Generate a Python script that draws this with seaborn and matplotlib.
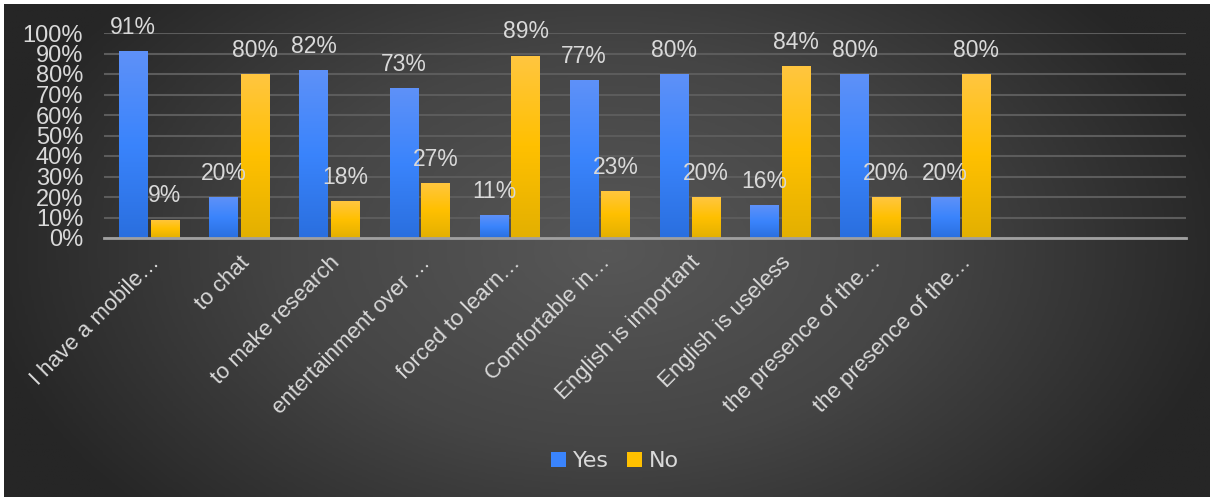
import numpy as np
import pandas as pd
import seaborn as sns
import matplotlib.pyplot as plt
from matplotlib.colors import LinearSegmentedColormap
from matplotlib.patches import Patch

sns.set_style("dark")
plt.rcParams['font.family'] = ['Liberation Sans', 'DejaVu Sans']

# Survey answers (share of respondents)
categories = ["I have a mobile…", "to chat", "to make research", "entertainment over …",
              "forced to learn…", "Comfortable in…", "English is important",
              "English is useless", "the presence of the…", "the presence of the…"]
yes_vals = [0.91, 0.20, 0.82, 0.73, 0.11, 0.77, 0.80, 0.16, 0.80, 0.20]
no_vals = [0.09, 0.80, 0.18, 0.27, 0.89, 0.23, 0.20, 0.84, 0.20, 0.80]
series = ["Yes", "No"]
yticks = [0, 0.1, 0.2, 0.3, 0.4, 0.5, 0.6, 0.7, 0.8, 0.9, 1.0]

BLUE = "#3a84fc"
GOLD = "#ffc000"
TEXT = "#d9d9d9"

df = pd.DataFrame({
    "pos": list(range(len(categories))) * 2,
    "answer": ["Yes"] * len(categories) + ["No"] * len(categories),
    "share": yes_vals + no_vals,
})

fig = plt.figure(figsize=(12.1, 4.97), dpi=100, facecolor="white")

# chart background: radial-ish gradient, lighter in the middle
bg = fig.add_axes([4 / 1210, 0, 1 - 4 / 1210, 1 - 4 / 497], zorder=-5)
gx, gy = np.meshgrid(np.linspace(-1, 1, 400), np.linspace(-1, 1, 200))
r = np.sqrt((gx / 1.05) ** 2 + (gy / 1.6) ** 2)
bg_cmap = LinearSegmentedColormap.from_list("bg", ["#575757", "#454545", "#262626"])
bg.imshow(np.clip(r, 0, 1), cmap=bg_cmap, aspect="auto", extent=(0, 1, 0, 1))
bg.set_axis_off()

ax = fig.add_axes([104 / 1210, 1 - 238 / 497, (1186 - 104) / 1210, (238 - 33) / 497])
ax.set_facecolor("none")

sns.barplot(data=df, x="pos", y="share", hue="answer", hue_order=series,
            palette=[BLUE, GOLD], width=0.7, gap=0.1, ax=ax, legend=False,
            saturation=1, linewidth=0, zorder=3)

# vertical gradients on bars
grad_maps = {
    BLUE: LinearSegmentedColormap.from_list("b", ["#2a6fdf", "#3a84fc", "#5e91f8"]),
    GOLD: LinearSegmentedColormap.from_list("g", ["#e3b000", "#ffc000", "#ffc640"]),
}
grad = np.linspace(0, 1, 100).reshape(-1, 1)
for i, bar in enumerate(ax.patches):
    cmap = grad_maps[BLUE] if i < len(categories) else grad_maps[GOLD]
    x0, w, h = bar.get_x(), bar.get_width(), bar.get_height()
    im = ax.imshow(grad, cmap=cmap, aspect="auto", origin="lower",
                   extent=(x0, x0 + w, 0, h), zorder=4)
    im.set_clip_path(bar)
    ax.annotate(f"{h * 100:.0f}%", (x0 + w / 2, h), xytext=(0, 17),
                textcoords="offset points", ha="center", va="center",
                fontsize=16.5, color=TEXT, annotation_clip=False, zorder=6)

ax.set_xlim(-0.5, 11.5)
ax.set_ylim(0, 1)
ax.set_yticks(yticks)
ax.set_yticklabels([f"{t * 100:.0f}%" for t in yticks], fontsize=17, color=TEXT)
ax.set_xticks(range(len(categories)))
ax.set_xticklabels(categories, rotation=45, ha="right", va="top",
                   rotation_mode="anchor", fontsize=16, color=TEXT)
ax.tick_params(axis="x", length=0, pad=10)
ax.tick_params(axis="y", length=0, pad=15)
ax.set_xlabel("")
ax.set_ylabel("")
ax.grid(axis="y", color="#5c5c5c", linewidth=1.5, zorder=0)
ax.grid(axis="x", visible=False)
for s in ["top", "right", "left"]:
    ax.spines[s].set_visible(False)
ax.spines["bottom"].set_color("#a0a0a0")
ax.spines["bottom"].set_linewidth(2)
ax.spines["bottom"].set_zorder(7)

handles = [Patch(facecolor=BLUE, edgecolor="none"), Patch(facecolor=GOLD, edgecolor="none")]
fig.legend(handles, series, loc="center", bbox_to_anchor=(0.508, 0.072), ncol=2,
           frameon=False, labelcolor=TEXT, handlelength=0.7,
           handleheight=0.7, handletextpad=0.3, columnspacing=0.8,
           prop={"family": "DejaVu Sans", "size": 16})

fig.savefig("out.png", dpi=100, facecolor="white")
